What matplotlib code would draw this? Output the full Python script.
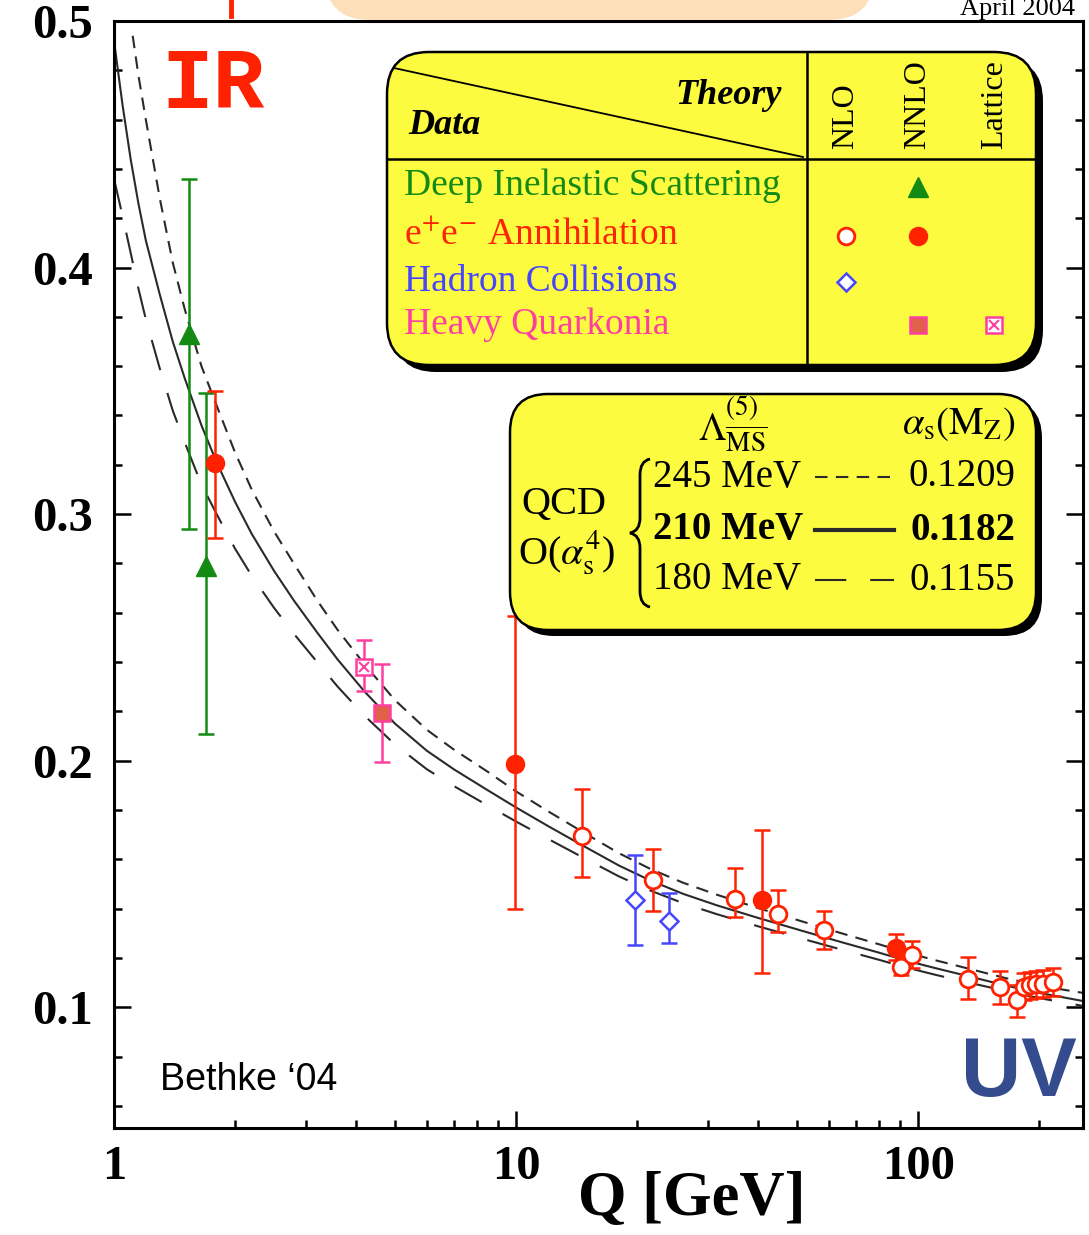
import matplotlib
matplotlib.use('Agg')
import matplotlib.pyplot as plt
import numpy as np
from matplotlib.patches import FancyBboxPatch, PathPatch
from matplotlib.path import Path
from matplotlib.lines import Line2D
from matplotlib.ticker import LogLocator, NullFormatter

plt.rcParams['font.family'] = ['Liberation Serif', 'DejaVu Serif']
plt.rcParams['mathtext.fontset'] = 'stix'

# QCD curves (Q in GeV, alpha_s)
q_245 = [1.113, 1.15, 1.2, 1.3, 1.4, 1.5, 1.65, 1.8, 2.0, 2.2, 2.5, 2.8, 3.2, 3.6, 4.2, 5.0, 6.0,
         7.0, 8.5, 10, 12, 14.67, 18, 21.5, 26, 31.6, 40, 51.4, 65, 80, 91.9, 110, 130, 165, 200, 257]
a_245 = [0.494, 0.478, 0.460, 0.428, 0.402, 0.383, 0.360, 0.344, 0.325, 0.310, 0.293, 0.280,
         0.265, 0.253, 0.239, 0.2245, 0.2125, 0.2045, 0.1955, 0.1875, 0.1795, 0.171, 0.1625,
         0.1562, 0.1505, 0.1456, 0.1402, 0.1348, 0.1298, 0.1255, 0.1225, 0.1191, 0.1161,
         0.1118, 0.1087, 0.1058]
q_210 = [1.0, 1.05, 1.1, 1.15, 1.2, 1.3, 1.4, 1.5, 1.65, 1.8, 2.0, 2.2, 2.5, 2.8, 3.2, 3.6, 4.2,
         5.0, 6.0, 7.0, 8.5, 10, 12, 14.67, 18, 21.5, 26, 31.6, 40, 51.4, 65, 80, 91.9, 110, 130,
         165, 200, 257]
a_210 = [0.492, 0.466, 0.444, 0.426, 0.411, 0.389, 0.370, 0.355, 0.336, 0.321, 0.305, 0.292,
         0.277, 0.265, 0.252, 0.241, 0.228, 0.215, 0.204, 0.1965, 0.188, 0.181, 0.1735, 0.1655,
         0.1575, 0.1515, 0.146, 0.1413, 0.1362, 0.131, 0.1262, 0.1221, 0.1192, 0.1159, 0.113,
         0.1088, 0.1058, 0.1025]
q_180 = [1.0, 1.05, 1.1, 1.15, 1.2, 1.3, 1.4, 1.5, 1.65, 1.8, 2.0, 2.2, 2.5, 2.8, 3.2, 3.6, 4.2,
         5.0, 6.0, 7.0, 8.5, 10, 12, 14.67, 18, 21.5, 26, 31.6, 40, 51.4, 65, 80, 91.9, 110, 130,
         165, 200, 257]
a_180 = [0.436, 0.421, 0.406, 0.3915, 0.379, 0.359, 0.342, 0.329, 0.312, 0.300, 0.286, 0.275,
         0.262, 0.2515, 0.240, 0.230, 0.2182, 0.2065, 0.1965, 0.1897, 0.1818, 0.1753, 0.1683,
         0.1607, 0.1531, 0.1474, 0.1422, 0.1377, 0.1328, 0.1278, 0.1232, 0.1192, 0.1164,
         0.1132, 0.1104, 0.1066, 0.1037, 0.1005]

# measurements: Q, alpha_s, lower and upper end of the error bar
dis_q = [1.536, 1.69]
dis_a = [0.373, 0.279]
dis_lo = [0.294, 0.211]
dis_hi = [0.436, 0.349]

ee_nnlo_q = [1.78, 9.94, 41.0, 88.1]
ee_nnlo_a = [0.3208, 0.1987, 0.1436, 0.1242]
ee_nnlo_lo = [0.2902, 0.140, 0.1139, 0.119]
ee_nnlo_hi = [0.3501, 0.2587, 0.1717, 0.1298]

ee_nlo_q = [14.6, 21.9, 35.0, 44.7, 58.3, 90.4, 96.6, 133.3, 159.4, 175.9, 183.6, 190, 196.9, 204, 216]
ee_nlo_a = [0.1696, 0.1514, 0.144, 0.1379, 0.1312, 0.1163, 0.1211, 0.1116, 0.1082, 0.1031,
            0.1082, 0.1089, 0.1093, 0.1096, 0.1102]
ee_nlo_lo = [0.1528, 0.139, 0.1366, 0.1305, 0.1236, 0.113, 0.1157, 0.1035, 0.1012, 0.0961,
             0.1028, 0.1033, 0.1037, 0.104, 0.1046]
ee_nlo_hi = [0.1885, 0.164, 0.1566, 0.1477, 0.139, 0.1206, 0.1268, 0.1204, 0.1147, 0.1089,
             0.1137, 0.1144, 0.1148, 0.1151, 0.1157]

had_q = [19.8, 24.0]
had_a = [0.1433, 0.1348]
had_lo = [0.1254, 0.126]
had_hi = [0.1619, 0.1463]

hq_q = [4.65]
hq_a = [0.2193]
hq_lo = [0.1993]
hq_hi = [0.2394]

lat_q = [4.19]
lat_a = [0.238]
lat_lo = [0.2283]
lat_hi = [0.2491]

RED = '#ff2200'
GREEN = '#138a13'
BLUE = '#4646ff'
PINK = '#ff3fa0'
YELLOW = '#fdfb3f'
CURVE = '#2a2a2a'
SHORT = (6, 4)
LONG = (15, 11.5)

W, H = 1089, 1235
fig = plt.figure(figsize=(W / 100, H / 100), dpi=100)
ax = fig.add_axes([114 / W, 1 - 1128 / H, (1083 - 114) / W, (1128 - 21) / H])

ax.plot(q_245, a_245, color=CURVE, lw=1.5, dashes=SHORT)
ax.plot(q_210, a_210, color=CURVE, lw=1.5)
ax.plot(q_180, a_180, color=CURVE, lw=1.5, dashes=LONG)


def bars(q, a, lo, hi, color, **kw):
    a = np.array(a)
    yerr = [a - np.array(lo), np.array(hi) - a]
    ax.errorbar(q, a, yerr=yerr, fmt='none', ecolor=color, elinewidth=1.8,
                capsize=5.5, capthick=1.8, zorder=3)
    ax.plot(q, a, ls='none', zorder=4, **kw)


bars(dis_q, dis_a, dis_lo, dis_hi, GREEN, marker='^', ms=15, mfc=GREEN, mec=GREEN)
bars(ee_nnlo_q, ee_nnlo_a, ee_nnlo_lo, ee_nnlo_hi, RED, marker='o', ms=13, mfc=RED, mec=RED)
bars(ee_nlo_q, ee_nlo_a, ee_nlo_lo, ee_nlo_hi, RED, marker='o', ms=12, mfc='white', mec=RED, mew=2)
bars(had_q, had_a, had_lo, had_hi, BLUE, marker='D', ms=9, mfc='white', mec=BLUE, mew=1.8)
bars(hq_q, hq_a, hq_lo, hq_hi, PINK, marker='s', ms=12, mfc='#e0604a', mec=PINK, mew=1.8)
bars(lat_q, lat_a, lat_lo, lat_hi, PINK, marker='s', ms=12, mfc='white', mec=PINK, mew=1.8)
ax.plot(lat_q, lat_a, ls='none', marker='x', ms=7, mec=PINK, mew=1.5, zorder=5)

ax.set_xscale('log')
ax.set_xlim(1, 257)
ax.set_ylim(0.051, 0.5)
ax.set_xticks([1, 10, 100])
ax.set_xticklabels(['1', '10', '100'])
ax.xaxis.set_minor_locator(LogLocator(subs=range(2, 10)))
ax.xaxis.set_minor_formatter(NullFormatter())
ax.set_yticks([0.1, 0.2, 0.3, 0.4, 0.5])
ax.set_yticklabels(['0.1', '0.2', '0.3', '0.4', '0.5'])
ax.set_yticks(np.arange(0.06, 0.5, 0.02), minor=True)
ax.tick_params(which='both', direction='in', right=True, top=False, width=1.8)
ax.tick_params(which='major', length=12)
ax.tick_params(which='minor', length=6)
ax.tick_params(axis='y', pad=15)
ax.tick_params(axis='x', pad=12)
for lab in ax.get_xticklabels() + ax.get_yticklabels():
    lab.set_fontsize(35)
    lab.set_fontweight('bold')
for sp in ax.spines.values():
    sp.set_linewidth(2.2)

T = fig.dpi_scale_trans


def P(x, y):
    return x / 100, (H - y) / 100


def text(x, y, s, **kw):
    fig.text(*P(x, y), s, transform=T, **kw)


def box(x0, y0, x1, y1, r, color, z, lw=1.5):
    (ax0, ay1), (ax1, ay0) = P(x0, y0), P(x1, y1)
    fig.add_artist(FancyBboxPatch((ax0, ay0), ax1 - ax0, ay1 - ay0,
                                  boxstyle=f'round,pad=0,rounding_size={r / 100}',
                                  fc=color, ec='black' if lw else color, lw=lw,
                                  transform=T, zorder=z))


def line(xs, ys, **kw):
    pts = [P(x, y) for x, y in zip(xs, ys)]
    fig.add_artist(Line2D([p[0] for p in pts], [p[1] for p in pts], transform=T, **kw))


# top slide remnants
box(325, -80, 874, 20, 45, '#fde0b9', 1, lw=0)
line([231, 231], [0, 16], color=RED, lw=3.5, zorder=2)
text(1075, 15, 'April 2004', fontsize=19, ha='right', va='baseline')

# data / theory table
box(394, 59, 1043, 372, 42, 'black', 4, lw=0)
box(387, 52, 1036, 365, 42, YELLOW, 5, lw=1.8)
line([807, 807], [53, 364], color='black', lw=1.8, zorder=6)
line([388, 1035], [159, 159], color='black', lw=1.8, zorder=6)
line([394, 803], [68, 157], color='black', lw=1.3, zorder=6)
text(782, 95, 'Theory', fontsize=26, fontweight='bold', style='italic', ha='right', va='center', zorder=7)
text(408, 125, 'Data', fontsize=26, fontweight='bold', style='italic', ha='left', va='center', zorder=7)
for cx, lab in [(846, 'NLO'), (918, 'NNLO'), (995, 'Lattice')]:
    text(cx, 149, lab, fontsize=23, rotation=90, ha='center', va='bottom', zorder=7)
text(404, 186, 'Deep Inelastic Scattering', fontsize=27, color=GREEN, va='center', zorder=7)
text(404, 235, r'e$^{+}$e$^{-}$ Annihilation', fontsize=27, color=RED, va='center', zorder=7)
text(404, 282, 'Hadron Collisions', fontsize=27, color=BLUE, va='center', zorder=7)
text(404, 325, 'Heavy Quarkonia', fontsize=27, color=PINK, va='center', zorder=7)


def mark(x, y, **kw):
    line([x], [y], ls='none', zorder=8, **kw)


mark(918, 187, marker='^', ms=15, mfc=GREEN, mec=GREEN)
mark(846, 236, marker='o', ms=12, mfc='white', mec=RED, mew=2)
mark(918, 236, marker='o', ms=13, mfc=RED, mec=RED)
mark(846, 282, marker='D', ms=9, mfc='white', mec=BLUE, mew=1.8)
mark(918, 325, marker='s', ms=12, mfc='#e0604a', mec=PINK, mew=1.8)
mark(994, 325, marker='s', ms=12, mfc='white', mec=PINK, mew=1.8)
mark(994, 325, marker='x', ms=7, mec=PINK, mew=1.5)

# Lambda box
box(516, 400, 1042, 636, 38, 'black', 4, lw=0)
box(510, 394, 1036, 630, 38, YELLOW, 5, lw=1.8)
text(733, 424, r'$\Lambda^{(5)}_{\overline{\rm MS}}$', fontsize=28, ha='center', va='center', zorder=7)
text(1015, 424, r'$\alpha_{\rm s}(\rm M_Z)$', fontsize=28, ha='right', va='center', zorder=7)
text(564, 505, 'QCD', fontsize=29, ha='center', va='center', zorder=7)
text(566, 553, r'O($\alpha_{\rm s}^{4}$)', fontsize=29, ha='center', va='center', zorder=7)
brace = Path([P(650, 459), P(640, 461), P(640, 475), P(640, 518), P(640, 531), P(630, 533),
              P(640, 535), P(640, 548), P(640, 591), P(640, 605), P(650, 607)],
             [Path.MOVETO, Path.CURVE3, Path.CURVE3, Path.LINETO, Path.CURVE3, Path.CURVE3,
              Path.CURVE3, Path.CURVE3, Path.LINETO, Path.CURVE3, Path.CURVE3])
fig.add_artist(PathPatch(brace, transform=T, fill=False, lw=2, ec='black', zorder=7))
rows = [(477, '245 MeV', '0.1209', SHORT, 'normal'),
        (530, '210 MeV', '0.1182', None, 'bold'),
        (580, '180 MeV', '0.1155', LONG, 'normal')]
for y, lam, val, dash, wt in rows:
    text(653, y, lam, fontsize=28, fontweight=wt, ha='left', va='center', zorder=7)
    text(1015, y, val, fontsize=28, fontweight=wt, ha='right', va='center', zorder=7)
    kw = dict(color=CURVE, zorder=7)
    if dash:
        line([815, 894], [y, y], lw=1.5, dashes=dash, **kw)
    else:
        line([815, 894], [y, y], lw=3, **kw)

# annotations
ax.text(1.31, 0.4735, 'IR', fontsize=62, fontweight='bold', family='Liberation Mono',
        color=RED, va='center', ha='left')
text(1077, 1074, 'UV', fontsize=60, fontweight='bold', family='Liberation Sans',
     color='#344b8e', ha='right', va='center', zorder=7)
text(160, 1080, 'Bethke \u201804', fontsize=27, family='Liberation Sans', va='center', zorder=7)
text(692, 1200, 'Q [GeV]', fontsize=45, fontweight='bold', ha='center', va='center')

fig.savefig('out.png', dpi=100)
